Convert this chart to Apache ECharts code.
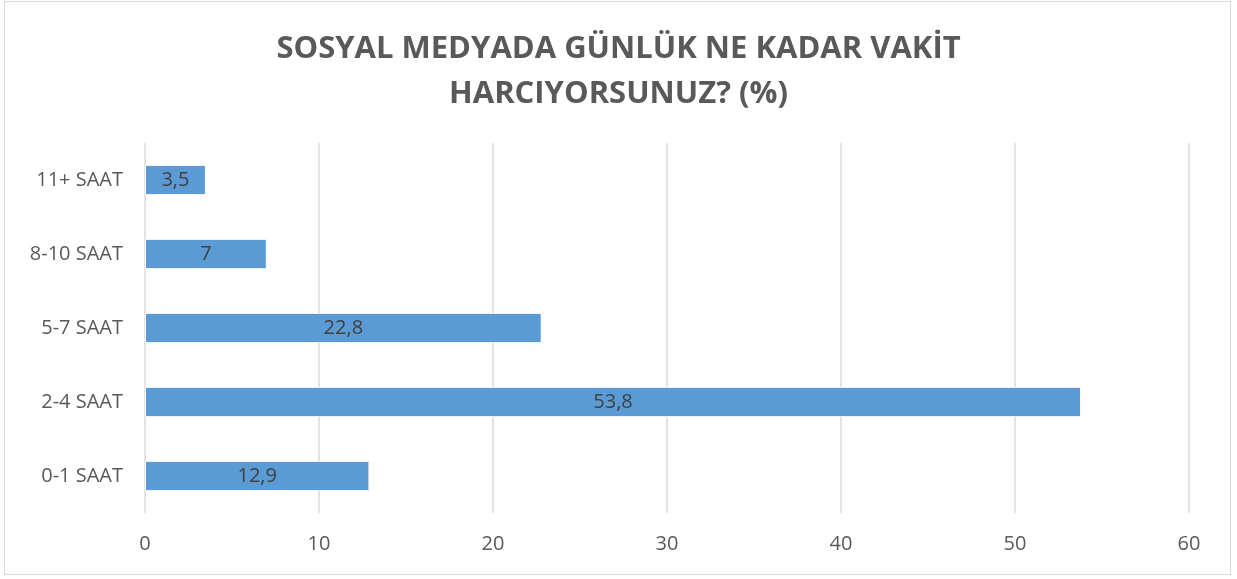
<!DOCTYPE html>
<html>
<head>
<meta charset="utf-8">
<script src="https://cdn.jsdelivr.net/npm/echarts@6/dist/echarts.min.js"></script>
<style>
  html, body { margin: 0; padding: 0; background: #fff; }
  #frame { position: absolute; left: 4px; top: 1px; width: 1225px; height: 572px; border: 1.5px solid #d9d9d9; }
  #chart { position: absolute; left: 0; top: 0; width: 1237px; height: 579px; }
</style>
</head>
<body>
<div id="frame"></div>
<div id="chart"></div>
<script>
// kategoriler (alttan üste)
var categories = ['0-1 SAAT', '2-4 SAAT', '5-7 SAAT', '8-10 SAAT', '11+ SAAT'];
var values = [12.9, 53.8, 22.8, 7, 3.5];

var myChart = echarts.init(document.getElementById('chart'));
var option = {
	title: {
		text: 'SOSYAL MEDYADA GÜNLÜK NE KADAR VAKİT\nHARCIYORSUNUZ? (%)',
		left: 'center',
		top: 22,
		textStyle: {
			fontFamily: 'Open Sans',
			fontWeight: 'bold',
			fontSize: 31,
			lineHeight: 45,
			color: '#595959'
		}
	},
	grid: {
		left: 145,
		right: 48,
		top: 143,
		bottom: 66
	},
	xAxis: {
		type: 'value',
		min: 0,
		max: 60,
		interval: 10,
		axisLine: { show: false },
		axisTick: { show: false },
		axisLabel: {
			color: '#595959',
			fontFamily: 'Open Sans',
			fontSize: 20,
			margin: 21
		},
		splitLine: {
			lineStyle: { color: '#d9d9d9', width: 1.5 }
		}
	},
	yAxis: {
		type: 'category',
		data: categories,
		axisLine: { show: false },
		axisTick: { show: false },
		axisLabel: {
			color: '#595959',
			fontFamily: 'Open Sans',
			fontSize: 20,
			margin: 22
		}
	},
	series: [{
		type: 'bar',
		data: values,
		barWidth: '41%',
		itemStyle: {
			color: '#5b9bd5',
			borderColor: '#ffffff',
			borderWidth: 1
		},
		label: {
			show: true,
			position: 'inside',
			color: '#404040',
			fontFamily: 'Open Sans',
			fontSize: 20,
			formatter: function(p) {
				return String(p.value).replace('.', ',');
			}
		},
		animation: false
	}]
};
myChart.setOption(option);
</script>
</body>
</html>
